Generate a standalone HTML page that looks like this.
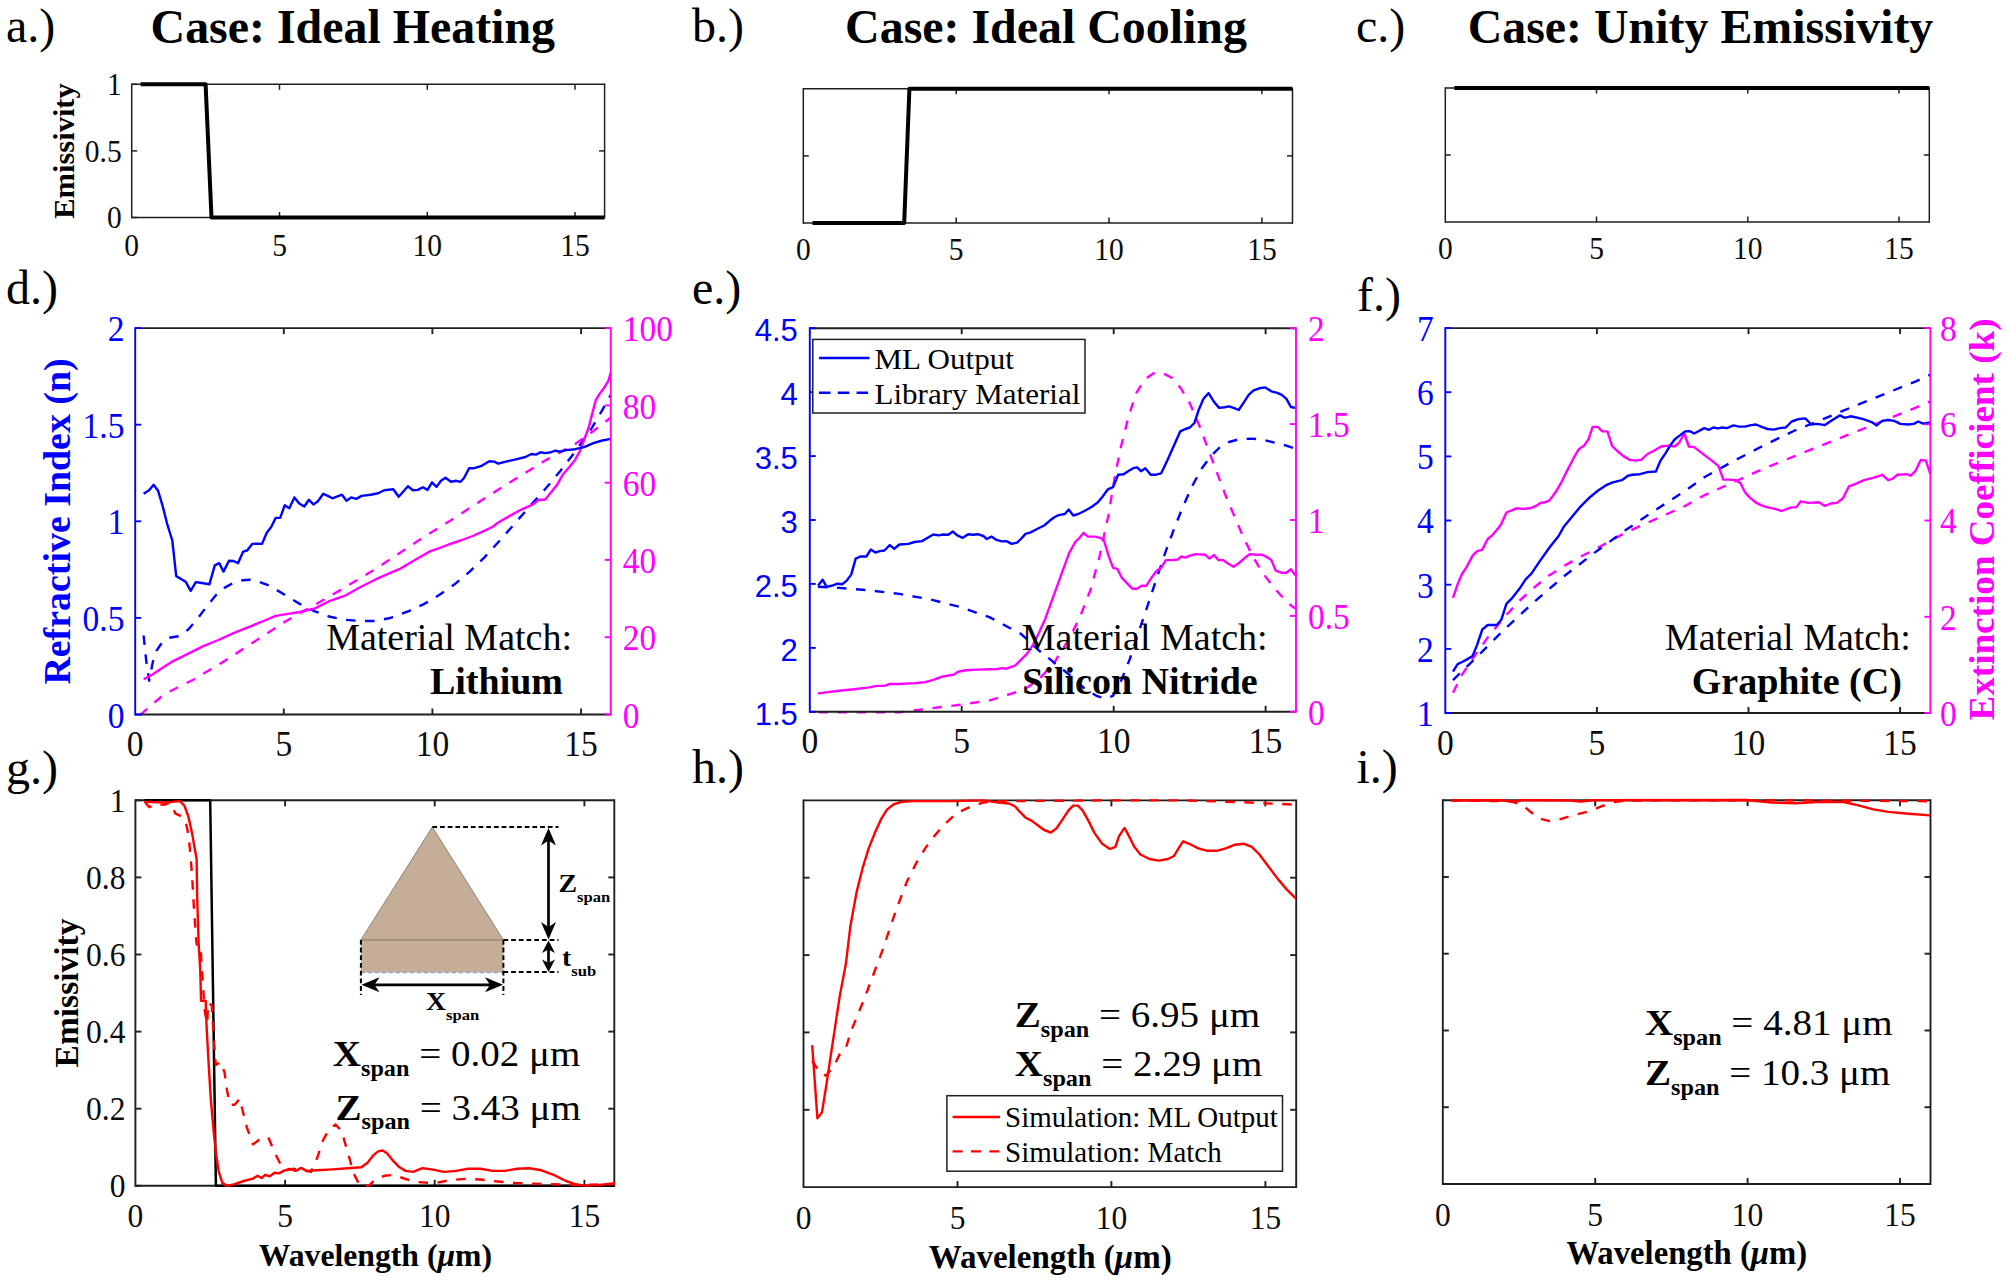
<!DOCTYPE html>
<html lang="en"><head><meta charset="utf-8"><title>Figure</title>
<style>
html,body{margin:0;padding:0;background:#fff;}
body{width:2007px;height:1284px;overflow:hidden;}
svg{display:block;}
.sf{font-family:'Liberation Serif', 'DejaVu Serif', serif;}
.ss{font-family:'Liberation Sans', 'DejaVu Sans', sans-serif;}
</style></head><body>
<svg width="2007" height="1284" viewBox="0 0 2007 1284">
<rect width="2007" height="1284" fill="#fff"/>
<text x="6.0" y="42.0" font-size="48" fill="#000" text-anchor="start" class="sf" >a.)</text>
<text x="692.0" y="42.0" font-size="48" fill="#000" text-anchor="start" class="sf" >b.)</text>
<text x="1356.0" y="42.0" font-size="48" fill="#000" text-anchor="start" class="sf" >c.)</text>
<text x="6.0" y="303.5" font-size="48" fill="#000" text-anchor="start" class="sf" >d.)</text>
<text x="692.0" y="304.0" font-size="48" fill="#000" text-anchor="start" class="sf" >e.)</text>
<text x="1357.0" y="311.0" font-size="48" fill="#000" text-anchor="start" class="sf" >f.)</text>
<text x="6.0" y="783.6" font-size="48" fill="#000" text-anchor="start" class="sf" >g.)</text>
<text x="692.0" y="783.4" font-size="48" fill="#000" text-anchor="start" class="sf" >h.)</text>
<text x="1356.5" y="783.2" font-size="48" fill="#000" text-anchor="start" class="sf" >i.)</text>
<text x="352.8" y="42.5" font-size="47.9" fill="#000" text-anchor="middle" class="sf" font-weight="bold" >Case: Ideal Heating</text>
<text x="1046.0" y="42.5" font-size="47.9" fill="#000" text-anchor="middle" class="sf" font-weight="bold" >Case: Ideal Cooling</text>
<text x="1700.5" y="42.5" font-size="47.9" fill="#000" text-anchor="middle" class="sf" font-weight="bold" >Case: Unity Emissivity</text>
<line x1="131.7" y1="84.3" x2="604.6" y2="84.3" stroke="#1f1f1f" stroke-width="1.5" />
<line x1="131.7" y1="217.5" x2="604.6" y2="217.5" stroke="#1f1f1f" stroke-width="1.5" />
<line x1="131.7" y1="83.5" x2="131.7" y2="218.2" stroke="#1f1f1f" stroke-width="1.5" />
<line x1="604.6" y1="83.5" x2="604.6" y2="218.2" stroke="#1f1f1f" stroke-width="1.5" />
<text x="0.0" y="0.0" font-size="29.5" fill="#0d0d0d" text-anchor="middle" class="sf" transform="translate(131.7 255.5) scale(1 1.08)" >0</text>
<line x1="279.5" y1="217.5" x2="279.5" y2="212.0" stroke="#1f1f1f" stroke-width="1.5" />
<line x1="279.5" y1="84.3" x2="279.5" y2="89.8" stroke="#1f1f1f" stroke-width="1.5" />
<text x="0.0" y="0.0" font-size="29.5" fill="#0d0d0d" text-anchor="middle" class="sf" transform="translate(279.5 255.5) scale(1 1.08)" >5</text>
<line x1="427.3" y1="217.5" x2="427.3" y2="212.0" stroke="#1f1f1f" stroke-width="1.5" />
<line x1="427.3" y1="84.3" x2="427.3" y2="89.8" stroke="#1f1f1f" stroke-width="1.5" />
<text x="0.0" y="0.0" font-size="29.5" fill="#0d0d0d" text-anchor="middle" class="sf" transform="translate(427.3 255.5) scale(1 1.08)" >10</text>
<line x1="575.0" y1="217.5" x2="575.0" y2="212.0" stroke="#1f1f1f" stroke-width="1.5" />
<line x1="575.0" y1="84.3" x2="575.0" y2="89.8" stroke="#1f1f1f" stroke-width="1.5" />
<text x="0.0" y="0.0" font-size="29.5" fill="#0d0d0d" text-anchor="middle" class="sf" transform="translate(575.0 255.5) scale(1 1.08)" >15</text>
<line x1="131.7" y1="217.5" x2="137.2" y2="217.5" stroke="#1f1f1f" stroke-width="1.5" />
<text x="0.0" y="0.0" font-size="29.5" fill="#0d0d0d" text-anchor="end" class="sf" transform="translate(121.7 228.3) scale(1 1.08)" >0</text>
<line x1="131.7" y1="150.9" x2="137.2" y2="150.9" stroke="#1f1f1f" stroke-width="1.5" />
<text x="0.0" y="0.0" font-size="29.5" fill="#0d0d0d" text-anchor="end" class="sf" transform="translate(121.7 161.7) scale(1 1.08)" >0.5</text>
<line x1="131.7" y1="84.3" x2="137.2" y2="84.3" stroke="#1f1f1f" stroke-width="1.5" />
<text x="0.0" y="0.0" font-size="29.5" fill="#0d0d0d" text-anchor="end" class="sf" transform="translate(121.7 95.1) scale(1 1.08)" >1</text>
<line x1="604.6" y1="150.9" x2="599.1" y2="150.9" stroke="#1f1f1f" stroke-width="1.5" />
<path d="M140.6 84.3 L205.6 84.3 L211.5 217.5 L604.6 217.5" fill="none" stroke="#000" stroke-width="4" stroke-linejoin="round" stroke-linejoin="miter"/>
<text x="0.0" y="0.0" font-size="28.5" fill="#000" text-anchor="middle" class="sf" font-weight="bold" transform="translate(73.5 151.0) rotate(-90) scale(1.07 1)" >Emissivity</text>
<line x1="803.3" y1="88.8" x2="1292.5" y2="88.8" stroke="#1f1f1f" stroke-width="1.5" />
<line x1="803.3" y1="223.0" x2="1292.5" y2="223.0" stroke="#1f1f1f" stroke-width="1.5" />
<line x1="803.3" y1="88.0" x2="803.3" y2="223.8" stroke="#1f1f1f" stroke-width="1.5" />
<line x1="1292.5" y1="88.0" x2="1292.5" y2="223.8" stroke="#1f1f1f" stroke-width="1.5" />
<text x="0.0" y="0.0" font-size="29.5" fill="#0d0d0d" text-anchor="middle" class="sf" transform="translate(803.3 260.0) scale(1 1.08)" >0</text>
<line x1="956.2" y1="223.0" x2="956.2" y2="217.5" stroke="#1f1f1f" stroke-width="1.5" />
<line x1="956.2" y1="88.8" x2="956.2" y2="94.3" stroke="#1f1f1f" stroke-width="1.5" />
<text x="0.0" y="0.0" font-size="29.5" fill="#0d0d0d" text-anchor="middle" class="sf" transform="translate(956.2 260.0) scale(1 1.08)" >5</text>
<line x1="1109.0" y1="223.0" x2="1109.0" y2="217.5" stroke="#1f1f1f" stroke-width="1.5" />
<line x1="1109.0" y1="88.8" x2="1109.0" y2="94.3" stroke="#1f1f1f" stroke-width="1.5" />
<text x="0.0" y="0.0" font-size="29.5" fill="#0d0d0d" text-anchor="middle" class="sf" transform="translate(1109.0 260.0) scale(1 1.08)" >10</text>
<line x1="1261.9" y1="223.0" x2="1261.9" y2="217.5" stroke="#1f1f1f" stroke-width="1.5" />
<line x1="1261.9" y1="88.8" x2="1261.9" y2="94.3" stroke="#1f1f1f" stroke-width="1.5" />
<text x="0.0" y="0.0" font-size="29.5" fill="#0d0d0d" text-anchor="middle" class="sf" transform="translate(1261.9 260.0) scale(1 1.08)" >15</text>
<line x1="803.3" y1="155.9" x2="808.8" y2="155.9" stroke="#1f1f1f" stroke-width="1.5" />
<line x1="1292.5" y1="155.9" x2="1287.0" y2="155.9" stroke="#1f1f1f" stroke-width="1.5" />
<path d="M812.5 223.0 L904.2 223.0 L909.4 88.8 L1292.5 88.8" fill="none" stroke="#000" stroke-width="4" stroke-linejoin="round" />
<line x1="1445.3" y1="88.0" x2="1929.3" y2="88.0" stroke="#1f1f1f" stroke-width="1.5" />
<line x1="1445.3" y1="222.0" x2="1929.3" y2="222.0" stroke="#1f1f1f" stroke-width="1.5" />
<line x1="1445.3" y1="87.2" x2="1445.3" y2="222.8" stroke="#1f1f1f" stroke-width="1.5" />
<line x1="1929.3" y1="87.2" x2="1929.3" y2="222.8" stroke="#1f1f1f" stroke-width="1.5" />
<text x="0.0" y="0.0" font-size="29.5" fill="#0d0d0d" text-anchor="middle" class="sf" transform="translate(1445.3 259.0) scale(1 1.08)" >0</text>
<line x1="1596.5" y1="222.0" x2="1596.5" y2="216.5" stroke="#1f1f1f" stroke-width="1.5" />
<line x1="1596.5" y1="88.0" x2="1596.5" y2="93.5" stroke="#1f1f1f" stroke-width="1.5" />
<text x="0.0" y="0.0" font-size="29.5" fill="#0d0d0d" text-anchor="middle" class="sf" transform="translate(1596.5 259.0) scale(1 1.08)" >5</text>
<line x1="1747.8" y1="222.0" x2="1747.8" y2="216.5" stroke="#1f1f1f" stroke-width="1.5" />
<line x1="1747.8" y1="88.0" x2="1747.8" y2="93.5" stroke="#1f1f1f" stroke-width="1.5" />
<text x="0.0" y="0.0" font-size="29.5" fill="#0d0d0d" text-anchor="middle" class="sf" transform="translate(1747.8 259.0) scale(1 1.08)" >10</text>
<line x1="1899.0" y1="222.0" x2="1899.0" y2="216.5" stroke="#1f1f1f" stroke-width="1.5" />
<line x1="1899.0" y1="88.0" x2="1899.0" y2="93.5" stroke="#1f1f1f" stroke-width="1.5" />
<text x="0.0" y="0.0" font-size="29.5" fill="#0d0d0d" text-anchor="middle" class="sf" transform="translate(1899.0 259.0) scale(1 1.08)" >15</text>
<line x1="1445.3" y1="155.0" x2="1450.8" y2="155.0" stroke="#1f1f1f" stroke-width="1.5" />
<line x1="1929.3" y1="155.0" x2="1923.8" y2="155.0" stroke="#1f1f1f" stroke-width="1.5" />
<path d="M1454.4 88.0 L1929.3 88.0" fill="none" stroke="#000" stroke-width="4" stroke-linejoin="round" />
<path d="M140.0 715.1 L164.1 694.3 L194.3 679.2 L224.4 661.1 L254.6 641.5 L284.7 621.9 L314.9 604.8 L345.0 587.3 L375.2 569.2 L424.4 536.6 L454.6 517.9 L484.7 498.3 L514.9 479.3 L545.0 460.6 L575.2 444.1 L590.3 433.5 L610.8 417.5" fill="none" stroke="#ff00ff" stroke-width="2.4" stroke-linejoin="round" stroke-dasharray="9.5 9.5" />
<path d="M143.6 635.5 L146.1 659.6 L149.1 680.7 L152.7 662.6 L156.6 650.6 L161.7 643.0 L168.7 637.9 L179.2 636.1 L188.3 629.5 L197.3 618.9 L206.4 606.9 L215.4 595.7 L224.4 587.9 L233.5 582.7 L242.5 580.3 L250.1 579.7 L257.6 581.2 L269.7 585.8 L284.7 594.8 L299.8 603.9 L314.9 611.4 L330.0 616.8 L345.0 619.8 L360.1 621.0 L375.2 621.0 L390.3 618.0 L409.4 610.8 L424.4 603.9 L439.5 594.8 L454.6 584.3 L469.7 571.6 L484.7 557.1 L499.8 540.5 L514.9 523.4 L530.0 505.9 L545.0 489.3 L560.1 471.2 L575.2 451.6 L590.3 430.5 L599.3 415.4 L610.8 394.9" fill="none" stroke="#0000ff" stroke-width="2.4" stroke-linejoin="round" stroke-dasharray="9.5 9.5" />
<path d="M143.6 679.2 L152.1 674.7 L161.1 668.7 L173.2 661.1 L188.3 653.6 L203.3 646.1 L218.4 640.0 L233.5 633.1 L248.6 627.1 L263.6 621.0 L275.7 615.9 L284.7 614.4 L299.8 612.0 L314.9 608.4 L330.0 600.8 L345.0 595.7 L360.1 587.3 L375.2 579.7 L390.3 572.8 L399.3 569.2 L409.4 563.2 L421.4 556.2 L430.5 551.1 L439.5 548.1 L448.6 544.5 L460.6 540.5 L472.7 536.0 L484.7 530.6 L492.3 527.0 L498.3 522.5 L508.9 516.4 L520.9 509.8 L533.0 504.4 L539.0 499.8 L545.0 499.8 L551.1 492.3 L557.1 484.8 L563.1 474.2 L569.2 467.3 L575.2 459.7 L579.7 451.6 L584.2 439.5 L588.7 427.5 L591.8 415.4 L595.7 400.4 L599.3 394.3 L603.8 388.3 L608.3 380.8 L610.8 372.6" fill="none" stroke="#ff00ff" stroke-width="2.4" stroke-linejoin="round" />
<path d="M143.6 493.8 L149.1 490.2 L153.6 484.8 L158.1 490.8 L162.6 505.9 L167.2 524.0 L172.3 540.5 L176.2 576.1 L180.7 578.8 L185.9 582.1 L190.7 590.9 L195.8 582.1 L200.3 582.7 L209.4 584.3 L214.8 565.3 L219.3 563.2 L223.5 571.6 L229.0 560.7 L233.5 561.0 L238.0 563.2 L243.1 551.7 L247.1 550.5 L252.2 543.9 L257.0 543.6 L262.1 543.9 L266.6 533.0 L271.2 527.0 L275.7 517.9 L280.2 517.9 L284.7 505.3 L289.3 508.3 L294.4 497.4 L299.2 503.5 L304.3 506.5 L308.9 499.8 L313.4 504.4 L317.9 501.3 L323.3 493.8 L327.8 495.9 L332.4 498.3 L342.0 494.7 L346.5 500.7 L351.1 497.4 L356.2 498.9 L361.6 495.9 L370.7 494.7 L378.2 493.2 L384.2 490.2 L393.3 489.3 L398.7 496.8 L407.9 486.3 L413.0 490.2 L417.8 489.9 L422.9 487.2 L427.5 489.9 L432.0 482.4 L436.5 486.9 L441.0 480.8 L445.5 477.8 L451.0 481.8 L456.1 480.8 L460.6 481.8 L464.2 477.8 L469.1 468.2 L474.2 468.2 L481.7 465.8 L489.3 461.3 L494.4 461.6 L498.3 463.7 L505.8 461.6 L514.9 459.7 L525.4 457.0 L531.5 454.0 L536.0 454.6 L540.5 452.2 L545.0 453.1 L551.1 452.2 L555.6 450.7 L560.1 451.6 L566.1 450.1 L575.2 449.2 L584.2 447.1 L593.3 443.2 L602.3 440.5 L610.8 438.9" fill="none" stroke="#0000ff" stroke-width="2.4" stroke-linejoin="round" />
<line x1="135.2" y1="328.1" x2="610.8" y2="328.1" stroke="#1f1f1f" stroke-width="1.9" />
<line x1="135.2" y1="714.5" x2="610.8" y2="714.5" stroke="#1f1f1f" stroke-width="1.9" />
<line x1="135.2" y1="327.2" x2="135.2" y2="715.5" stroke="#0000ff" stroke-width="1.9" />
<line x1="610.8" y1="327.2" x2="610.8" y2="715.5" stroke="#ff00ff" stroke-width="1.9" />
<text x="0.0" y="0.0" font-size="33.5" fill="#0d0d0d" text-anchor="middle" class="sf" transform="translate(135.2 756.0) scale(1 1.05)" >0</text>
<line x1="283.8" y1="714.5" x2="283.8" y2="708.5" stroke="#1f1f1f" stroke-width="1.9" />
<line x1="283.8" y1="328.1" x2="283.8" y2="334.1" stroke="#1f1f1f" stroke-width="1.9" />
<text x="0.0" y="0.0" font-size="33.5" fill="#0d0d0d" text-anchor="middle" class="sf" transform="translate(283.8 756.0) scale(1 1.05)" >5</text>
<line x1="432.4" y1="714.5" x2="432.4" y2="708.5" stroke="#1f1f1f" stroke-width="1.9" />
<line x1="432.4" y1="328.1" x2="432.4" y2="334.1" stroke="#1f1f1f" stroke-width="1.9" />
<text x="0.0" y="0.0" font-size="33.5" fill="#0d0d0d" text-anchor="middle" class="sf" transform="translate(432.4 756.0) scale(1 1.05)" >10</text>
<line x1="581.1" y1="714.5" x2="581.1" y2="708.5" stroke="#1f1f1f" stroke-width="1.9" />
<line x1="581.1" y1="328.1" x2="581.1" y2="334.1" stroke="#1f1f1f" stroke-width="1.9" />
<text x="0.0" y="0.0" font-size="33.5" fill="#0d0d0d" text-anchor="middle" class="sf" transform="translate(581.1 756.0) scale(1 1.05)" >15</text>
<line x1="135.2" y1="714.5" x2="141.2" y2="714.5" stroke="#0000ff" stroke-width="1.9" />
<text x="0.0" y="0.0" font-size="33.5" fill="#0000ff" text-anchor="end" class="sf" transform="translate(124.4 727.6) scale(1 1.05)" >0</text>
<line x1="135.2" y1="617.9" x2="141.2" y2="617.9" stroke="#0000ff" stroke-width="1.9" />
<text x="0.0" y="0.0" font-size="33.5" fill="#0000ff" text-anchor="end" class="sf" transform="translate(124.4 631.0) scale(1 1.05)" >0.5</text>
<line x1="135.2" y1="521.3" x2="141.2" y2="521.3" stroke="#0000ff" stroke-width="1.9" />
<text x="0.0" y="0.0" font-size="33.5" fill="#0000ff" text-anchor="end" class="sf" transform="translate(124.4 534.4) scale(1 1.05)" >1</text>
<line x1="135.2" y1="424.7" x2="141.2" y2="424.7" stroke="#0000ff" stroke-width="1.9" />
<text x="0.0" y="0.0" font-size="33.5" fill="#0000ff" text-anchor="end" class="sf" transform="translate(124.4 437.8) scale(1 1.05)" >1.5</text>
<line x1="135.2" y1="328.1" x2="141.2" y2="328.1" stroke="#0000ff" stroke-width="1.9" />
<text x="0.0" y="0.0" font-size="33.5" fill="#0000ff" text-anchor="end" class="sf" transform="translate(124.4 341.2) scale(1 1.05)" >2</text>
<line x1="610.8" y1="714.5" x2="604.8" y2="714.5" stroke="#ff00ff" stroke-width="1.9" />
<text x="0.0" y="0.0" font-size="33.5" fill="#ff00ff" text-anchor="start" class="sf" transform="translate(622.8 727.6) scale(1 1.05)" >0</text>
<line x1="610.8" y1="637.2" x2="604.8" y2="637.2" stroke="#ff00ff" stroke-width="1.9" />
<text x="0.0" y="0.0" font-size="33.5" fill="#ff00ff" text-anchor="start" class="sf" transform="translate(622.8 650.3) scale(1 1.05)" >20</text>
<line x1="610.8" y1="559.9" x2="604.8" y2="559.9" stroke="#ff00ff" stroke-width="1.9" />
<text x="0.0" y="0.0" font-size="33.5" fill="#ff00ff" text-anchor="start" class="sf" transform="translate(622.8 573.0) scale(1 1.05)" >40</text>
<line x1="610.8" y1="482.7" x2="604.8" y2="482.7" stroke="#ff00ff" stroke-width="1.9" />
<text x="0.0" y="0.0" font-size="33.5" fill="#ff00ff" text-anchor="start" class="sf" transform="translate(622.8 495.7) scale(1 1.05)" >60</text>
<line x1="610.8" y1="405.4" x2="604.8" y2="405.4" stroke="#ff00ff" stroke-width="1.9" />
<text x="0.0" y="0.0" font-size="33.5" fill="#ff00ff" text-anchor="start" class="sf" transform="translate(622.8 418.5) scale(1 1.05)" >80</text>
<line x1="610.8" y1="328.1" x2="604.8" y2="328.1" stroke="#ff00ff" stroke-width="1.9" />
<text x="0.0" y="0.0" font-size="33.5" fill="#ff00ff" text-anchor="start" class="sf" transform="translate(622.8 341.2) scale(1 1.05)" >100</text>
<text x="0.0" y="0.0" font-size="37.9" fill="#0000ff" text-anchor="middle" class="sf" font-weight="bold" transform="translate(70.3 521.5) rotate(-90)" >Refractive Index (n)</text>
<text x="572.0" y="650.0" font-size="38" fill="#000" text-anchor="end" class="sf" >Material Match:</text>
<text x="563.0" y="694.3" font-size="38" fill="#000" text-anchor="end" class="sf" font-weight="bold" >Lithium</text>
<path d="M818.7 712.2 L900.0 712.2 L929.6 708.5 L959.7 704.8 L989.9 700.3 L1024.1 689.8 L1039.1 679.2 L1054.2 662.6 L1069.3 638.5 L1079.8 617.4 L1090.4 590.3 L1099.4 557.1 L1108.5 514.9 L1114.5 478.7 L1120.5 448.6 L1128.1 418.4 L1135.6 394.3 L1144.7 379.3 L1153.7 373.2 L1162.8 373.2 L1171.8 377.7 L1180.8 388.3 L1189.9 403.4 L1198.9 424.5 L1208.0 448.6 L1217.0 472.7 L1226.1 496.8 L1235.1 517.9 L1244.2 539.0 L1253.2 557.1 L1262.2 572.2 L1271.3 584.3 L1280.3 594.8 L1290.9 605.4 L1295.4 608.4" fill="none" stroke="#ff00ff" stroke-width="2.4" stroke-linejoin="round" stroke-dasharray="9.5 9.5" />
<path d="M818.0 586.7 L839.1 587.9 L869.3 590.3 L899.4 593.9 L929.6 599.3 L959.7 606.9 L989.9 617.4 L1021.1 634.0 L1039.1 650.6 L1054.2 662.6 L1069.3 674.7 L1084.4 688.3 L1096.4 695.8 L1105.5 698.8 L1113.0 695.8 L1120.5 682.2 L1129.6 659.6 L1138.6 632.5 L1147.7 605.4 L1156.7 578.2 L1165.8 551.1 L1174.8 527.0 L1183.9 504.4 L1192.9 484.8 L1201.9 468.2 L1211.0 456.1 L1220.0 447.1 L1229.1 442.0 L1238.1 439.5 L1250.2 438.6 L1262.2 439.5 L1274.3 442.6 L1286.4 445.6 L1295.4 448.6" fill="none" stroke="#0000ff" stroke-width="2.4" stroke-linejoin="round" stroke-dasharray="9.5 9.5" />
<path d="M818.0 693.4 L839.1 690.7 L854.2 689.2 L869.3 687.4 L876.8 685.9 L884.4 685.9 L889.8 684.0 L899.4 684.0 L914.5 683.1 L925.1 682.2 L932.6 680.1 L941.6 676.8 L947.7 675.6 L953.7 674.7 L958.2 671.7 L965.8 670.2 L977.8 669.6 L989.9 669.3 L997.4 669.0 L1001.9 668.1 L1006.5 668.7 L1015.0 665.7 L1021.1 659.6 L1027.1 653.6 L1033.1 644.6 L1039.1 632.5 L1045.2 618.9 L1051.2 602.3 L1057.2 585.8 L1063.3 569.2 L1069.3 552.6 L1075.3 542.0 L1079.8 537.5 L1083.5 533.0 L1088.0 536.6 L1094.9 536.6 L1101.0 538.1 L1104.0 540.5 L1108.5 555.6 L1113.0 567.7 L1117.5 569.2 L1122.1 578.2 L1128.1 584.3 L1132.6 588.8 L1137.1 588.8 L1141.6 585.8 L1146.2 585.8 L1152.2 576.7 L1156.7 570.7 L1161.2 567.7 L1165.8 560.1 L1171.8 560.1 L1177.8 559.5 L1181.4 556.5 L1185.4 557.7 L1189.9 555.6 L1195.9 554.1 L1205.0 554.7 L1209.5 558.6 L1214.0 555.0 L1218.5 560.1 L1223.0 560.1 L1227.6 563.2 L1233.6 566.8 L1239.6 562.5 L1245.7 557.1 L1250.2 554.1 L1256.2 554.7 L1262.2 554.7 L1266.8 557.1 L1271.3 560.1 L1275.8 570.7 L1281.8 572.8 L1286.4 572.8 L1290.9 569.2 L1295.4 575.2" fill="none" stroke="#ff00ff" stroke-width="2.4" stroke-linejoin="round" />
<path d="M818.0 585.8 L822.6 579.7 L826.5 586.7 L831.6 585.8 L837.6 583.7 L842.2 584.3 L846.7 580.6 L851.2 574.6 L855.7 558.6 L860.3 556.5 L866.3 556.5 L870.8 549.6 L875.3 552.6 L879.8 551.1 L884.4 550.5 L889.8 545.1 L894.3 548.7 L899.4 544.5 L908.5 543.9 L914.5 542.0 L922.1 541.1 L928.1 537.5 L933.2 534.5 L938.6 535.4 L943.2 534.5 L948.3 534.8 L952.8 531.5 L957.3 535.4 L962.8 537.8 L968.2 534.2 L973.3 534.8 L977.8 534.2 L983.3 536.0 L986.9 539.0 L991.4 536.6 L996.5 539.9 L1001.9 541.4 L1006.5 541.1 L1011.6 543.9 L1017.0 542.7 L1020.9 539.0 L1025.5 533.9 L1030.6 532.4 L1038.1 528.5 L1044.2 525.5 L1050.2 520.3 L1054.7 517.0 L1059.2 514.9 L1060.3 514.9 L1064.8 514.0 L1068.7 509.5 L1073.2 515.5 L1078.3 514.0 L1084.4 511.0 L1091.9 506.8 L1097.9 502.3 L1102.5 496.8 L1107.9 489.3 L1113.0 487.2 L1118.1 474.8 L1123.6 474.2 L1128.1 471.2 L1133.2 468.2 L1137.1 467.3 L1141.0 471.2 L1145.3 468.2 L1150.7 474.8 L1155.2 474.8 L1161.2 473.3 L1167.3 460.6 L1173.3 447.1 L1180.2 431.4 L1185.4 429.0 L1189.9 427.5 L1194.4 423.0 L1198.9 409.4 L1203.5 398.8 L1208.6 393.1 L1214.0 401.9 L1219.1 407.9 L1224.6 407.3 L1229.1 406.4 L1233.6 407.9 L1238.7 410.0 L1244.2 401.9 L1248.7 394.9 L1253.2 390.7 L1259.2 388.3 L1265.3 387.4 L1271.3 391.3 L1277.3 392.8 L1281.8 394.9 L1286.4 398.8 L1290.9 407.0 L1295.4 407.9" fill="none" stroke="#0000ff" stroke-width="2.4" stroke-linejoin="round" />
<line x1="809.8" y1="328.2" x2="1296.0" y2="328.2" stroke="#1f1f1f" stroke-width="1.9" />
<line x1="809.8" y1="711.8" x2="1296.0" y2="711.8" stroke="#1f1f1f" stroke-width="1.9" />
<line x1="809.8" y1="327.2" x2="809.8" y2="712.8" stroke="#0000ff" stroke-width="1.9" />
<line x1="1296.0" y1="327.2" x2="1296.0" y2="712.8" stroke="#ff00ff" stroke-width="1.9" />
<text x="0.0" y="0.0" font-size="33.5" fill="#0d0d0d" text-anchor="middle" class="sf" transform="translate(809.8 753.3) scale(1 1.05)" >0</text>
<line x1="961.7" y1="711.8" x2="961.7" y2="705.8" stroke="#1f1f1f" stroke-width="1.9" />
<line x1="961.7" y1="328.2" x2="961.7" y2="334.2" stroke="#1f1f1f" stroke-width="1.9" />
<text x="0.0" y="0.0" font-size="33.5" fill="#0d0d0d" text-anchor="middle" class="sf" transform="translate(961.7 753.3) scale(1 1.05)" >5</text>
<line x1="1113.7" y1="711.8" x2="1113.7" y2="705.8" stroke="#1f1f1f" stroke-width="1.9" />
<line x1="1113.7" y1="328.2" x2="1113.7" y2="334.2" stroke="#1f1f1f" stroke-width="1.9" />
<text x="0.0" y="0.0" font-size="33.5" fill="#0d0d0d" text-anchor="middle" class="sf" transform="translate(1113.7 753.3) scale(1 1.05)" >10</text>
<line x1="1265.6" y1="711.8" x2="1265.6" y2="705.8" stroke="#1f1f1f" stroke-width="1.9" />
<line x1="1265.6" y1="328.2" x2="1265.6" y2="334.2" stroke="#1f1f1f" stroke-width="1.9" />
<text x="0.0" y="0.0" font-size="33.5" fill="#0d0d0d" text-anchor="middle" class="sf" transform="translate(1265.6 753.3) scale(1 1.05)" >15</text>
<line x1="809.8" y1="711.8" x2="815.8" y2="711.8" stroke="#0000ff" stroke-width="1.9" />
<text x="797.8" y="724.7" font-size="31" fill="#0000ff" text-anchor="end" class="ss" >1.5</text>
<line x1="809.8" y1="647.9" x2="815.8" y2="647.9" stroke="#0000ff" stroke-width="1.9" />
<text x="797.8" y="660.8" font-size="31" fill="#0000ff" text-anchor="end" class="ss" >2</text>
<line x1="809.8" y1="583.9" x2="815.8" y2="583.9" stroke="#0000ff" stroke-width="1.9" />
<text x="797.8" y="596.8" font-size="31" fill="#0000ff" text-anchor="end" class="ss" >2.5</text>
<line x1="809.8" y1="520.0" x2="815.8" y2="520.0" stroke="#0000ff" stroke-width="1.9" />
<text x="797.8" y="532.9" font-size="31" fill="#0000ff" text-anchor="end" class="ss" >3</text>
<line x1="809.8" y1="456.1" x2="815.8" y2="456.1" stroke="#0000ff" stroke-width="1.9" />
<text x="797.8" y="469.0" font-size="31" fill="#0000ff" text-anchor="end" class="ss" >3.5</text>
<line x1="809.8" y1="392.1" x2="815.8" y2="392.1" stroke="#0000ff" stroke-width="1.9" />
<text x="797.8" y="405.0" font-size="31" fill="#0000ff" text-anchor="end" class="ss" >4</text>
<line x1="809.8" y1="328.2" x2="815.8" y2="328.2" stroke="#0000ff" stroke-width="1.9" />
<text x="797.8" y="341.1" font-size="31" fill="#0000ff" text-anchor="end" class="ss" >4.5</text>
<line x1="1296.0" y1="711.8" x2="1290.0" y2="711.8" stroke="#ff00ff" stroke-width="1.9" />
<text x="0.0" y="0.0" font-size="33.5" fill="#ff00ff" text-anchor="start" class="sf" transform="translate(1308.0 724.7) scale(1 1.05)" >0</text>
<line x1="1296.0" y1="615.9" x2="1290.0" y2="615.9" stroke="#ff00ff" stroke-width="1.9" />
<text x="0.0" y="0.0" font-size="33.5" fill="#ff00ff" text-anchor="start" class="sf" transform="translate(1308.0 628.8) scale(1 1.05)" >0.5</text>
<line x1="1296.0" y1="520.0" x2="1290.0" y2="520.0" stroke="#ff00ff" stroke-width="1.9" />
<text x="0.0" y="0.0" font-size="33.5" fill="#ff00ff" text-anchor="start" class="sf" transform="translate(1308.0 532.9) scale(1 1.05)" >1</text>
<line x1="1296.0" y1="424.1" x2="1290.0" y2="424.1" stroke="#ff00ff" stroke-width="1.9" />
<text x="0.0" y="0.0" font-size="33.5" fill="#ff00ff" text-anchor="start" class="sf" transform="translate(1308.0 437.0) scale(1 1.05)" >1.5</text>
<line x1="1296.0" y1="328.2" x2="1290.0" y2="328.2" stroke="#ff00ff" stroke-width="1.9" />
<text x="0.0" y="0.0" font-size="33.5" fill="#ff00ff" text-anchor="start" class="sf" transform="translate(1308.0 341.1) scale(1 1.05)" >2</text>
<text x="1267.7" y="650.0" font-size="38" fill="#000" text-anchor="end" class="sf" >Material Match:</text>
<text x="1257.7" y="694.3" font-size="38" fill="#000" text-anchor="end" class="sf" font-weight="bold" >Silicon Nitride</text>
<rect x="812.8" y="339.4" width="272.2" height="73.6" fill="#fff" stroke="#1f1f1f" stroke-width="1.5"/>
<line x1="819.0" y1="358.0" x2="869.5" y2="358.0" stroke="#0000ff" stroke-width="2.4" />
<line x1="819.0" y1="392.7" x2="869.5" y2="392.7" stroke="#0000ff" stroke-width="2.4" stroke-dasharray="11.5 7.3"/>
<text x="0.0" y="0.0" font-size="29" fill="#000" text-anchor="start" class="sf" transform="translate(874.5 368.7) scale(1.07 1)" >ML Output</text>
<text x="0.0" y="0.0" font-size="29" fill="#000" text-anchor="start" class="sf" transform="translate(874.5 404.0) scale(1.07 1)" >Library Material</text>
<path d="M1453.0 692.8 L1462.1 674.7 L1474.1 656.6 L1489.2 635.5 L1504.3 617.4 L1519.4 600.8 L1534.4 587.3 L1549.5 575.2 L1564.6 565.6 L1579.7 557.1 L1594.7 549.6 L1624.9 533.0 L1655.0 519.4 L1685.2 505.9 L1704.3 495.3 L1734.4 481.8 L1764.6 468.2 L1794.7 456.1 L1824.9 444.1 L1855.0 432.0 L1885.2 420.0 L1915.3 407.9 L1930.4 401.3" fill="none" stroke="#ff00ff" stroke-width="2.4" stroke-linejoin="round" stroke-dasharray="9.5 9.5" />
<path d="M1453.0 680.1 L1474.1 659.6 L1504.3 629.5 L1534.4 601.7 L1564.6 575.8 L1594.7 552.6 L1624.9 530.6 L1655.0 510.4 L1685.2 490.8 L1704.3 477.2 L1734.4 460.6 L1764.6 445.0 L1794.7 430.5 L1824.9 418.4 L1855.0 405.8 L1885.2 393.7 L1915.3 381.7 L1930.4 374.7" fill="none" stroke="#0000ff" stroke-width="2.4" stroke-linejoin="round" stroke-dasharray="9.5 9.5" />
<path d="M1453.0 597.8 L1457.6 584.3 L1462.1 573.7 L1466.6 567.1 L1472.6 555.6 L1477.2 551.1 L1482.3 549.6 L1487.7 539.0 L1492.2 535.4 L1496.8 530.0 L1501.3 524.0 L1506.4 512.5 L1511.8 510.4 L1516.4 508.3 L1522.4 508.9 L1529.9 508.3 L1536.0 505.9 L1540.5 502.9 L1545.0 502.3 L1549.5 500.4 L1555.5 492.3 L1561.6 481.8 L1567.6 469.7 L1573.6 458.2 L1578.8 449.2 L1584.2 445.6 L1588.7 438.9 L1592.6 426.9 L1597.8 426.9 L1602.3 431.4 L1607.4 431.4 L1612.2 446.2 L1617.3 451.0 L1623.4 456.1 L1629.4 459.7 L1635.4 460.6 L1641.5 459.7 L1647.5 454.0 L1653.5 451.0 L1661.1 446.5 L1668.6 445.6 L1674.6 446.5 L1679.2 442.6 L1684.3 433.5 L1688.8 446.5 L1694.2 447.1 L1705.8 456.1 L1711.8 460.6 L1718.5 466.1 L1723.3 479.6 L1729.9 479.6 L1736.0 480.2 L1740.5 483.3 L1745.0 492.3 L1749.5 497.4 L1755.5 502.3 L1761.6 505.3 L1767.6 507.4 L1775.1 508.9 L1781.8 511.0 L1787.2 508.9 L1791.7 507.4 L1796.2 507.4 L1800.8 501.3 L1808.3 502.9 L1818.9 502.3 L1824.9 505.9 L1830.9 503.5 L1836.9 502.9 L1843.0 498.3 L1849.0 486.3 L1855.0 484.2 L1864.1 480.2 L1873.1 477.8 L1882.2 474.8 L1888.2 480.2 L1892.7 478.7 L1897.2 474.8 L1906.3 474.2 L1910.8 475.7 L1915.3 471.2 L1920.8 460.0 L1925.9 460.6 L1930.4 474.2" fill="none" stroke="#ff00ff" stroke-width="2.4" stroke-linejoin="round" />
<path d="M1453.0 671.7 L1457.6 664.1 L1462.1 662.0 L1466.6 659.6 L1472.6 656.0 L1477.2 644.6 L1482.3 629.5 L1487.7 625.0 L1496.8 625.0 L1501.3 619.8 L1506.4 603.9 L1511.8 598.4 L1519.4 588.8 L1525.4 579.7 L1531.4 573.7 L1540.5 560.1 L1549.5 547.5 L1558.6 536.0 L1564.0 526.4 L1570.6 518.5 L1579.7 507.4 L1588.7 498.3 L1597.8 490.8 L1606.8 484.8 L1612.8 482.4 L1621.9 480.2 L1627.9 475.7 L1632.4 474.8 L1640.0 474.2 L1647.5 472.1 L1655.9 471.5 L1660.5 460.6 L1665.6 453.1 L1670.1 445.6 L1674.6 439.5 L1679.2 435.9 L1685.2 431.4 L1689.7 431.1 L1694.2 433.5 L1704.3 428.1 L1708.8 429.9 L1713.3 427.5 L1717.9 428.4 L1722.4 427.5 L1726.9 428.1 L1733.5 425.4 L1739.0 426.6 L1745.0 426.6 L1751.0 425.1 L1756.1 424.5 L1761.6 426.9 L1767.6 429.0 L1773.6 429.6 L1779.7 428.1 L1785.7 427.5 L1791.7 421.5 L1797.8 419.3 L1805.3 418.4 L1811.3 424.5 L1817.3 423.9 L1824.9 425.1 L1832.4 420.0 L1840.0 415.4 L1844.5 417.8 L1850.5 416.3 L1856.5 417.5 L1864.1 419.3 L1871.6 422.1 L1876.7 425.4 L1882.2 420.9 L1888.2 420.0 L1894.2 420.9 L1900.3 423.9 L1907.8 424.5 L1913.8 423.9 L1918.3 421.5 L1922.9 423.6 L1930.4 422.4" fill="none" stroke="#0000ff" stroke-width="2.4" stroke-linejoin="round" />
<line x1="1445.3" y1="328.1" x2="1930.4" y2="328.1" stroke="#1f1f1f" stroke-width="1.9" />
<line x1="1445.3" y1="713.0" x2="1930.4" y2="713.0" stroke="#1f1f1f" stroke-width="1.9" />
<line x1="1445.3" y1="327.2" x2="1445.3" y2="714.0" stroke="#0000ff" stroke-width="1.9" />
<line x1="1930.4" y1="327.2" x2="1930.4" y2="714.0" stroke="#ff00ff" stroke-width="1.9" />
<text x="0.0" y="0.0" font-size="33.5" fill="#0d0d0d" text-anchor="middle" class="sf" transform="translate(1445.3 754.5) scale(1 1.05)" >0</text>
<line x1="1596.9" y1="713.0" x2="1596.9" y2="707.0" stroke="#1f1f1f" stroke-width="1.9" />
<line x1="1596.9" y1="328.1" x2="1596.9" y2="334.1" stroke="#1f1f1f" stroke-width="1.9" />
<text x="0.0" y="0.0" font-size="33.5" fill="#0d0d0d" text-anchor="middle" class="sf" transform="translate(1596.9 754.5) scale(1 1.05)" >5</text>
<line x1="1748.5" y1="713.0" x2="1748.5" y2="707.0" stroke="#1f1f1f" stroke-width="1.9" />
<line x1="1748.5" y1="328.1" x2="1748.5" y2="334.1" stroke="#1f1f1f" stroke-width="1.9" />
<text x="0.0" y="0.0" font-size="33.5" fill="#0d0d0d" text-anchor="middle" class="sf" transform="translate(1748.5 754.5) scale(1 1.05)" >10</text>
<line x1="1900.1" y1="713.0" x2="1900.1" y2="707.0" stroke="#1f1f1f" stroke-width="1.9" />
<line x1="1900.1" y1="328.1" x2="1900.1" y2="334.1" stroke="#1f1f1f" stroke-width="1.9" />
<text x="0.0" y="0.0" font-size="33.5" fill="#0d0d0d" text-anchor="middle" class="sf" transform="translate(1900.1 754.5) scale(1 1.05)" >15</text>
<line x1="1445.3" y1="713.0" x2="1451.3" y2="713.0" stroke="#0000ff" stroke-width="1.9" />
<text x="0.0" y="0.0" font-size="33.5" fill="#0000ff" text-anchor="end" class="sf" transform="translate(1433.8 725.9) scale(1 1.05)" >1</text>
<line x1="1445.3" y1="648.9" x2="1451.3" y2="648.9" stroke="#0000ff" stroke-width="1.9" />
<text x="0.0" y="0.0" font-size="33.5" fill="#0000ff" text-anchor="end" class="sf" transform="translate(1433.8 661.7) scale(1 1.05)" >2</text>
<line x1="1445.3" y1="584.7" x2="1451.3" y2="584.7" stroke="#0000ff" stroke-width="1.9" />
<text x="0.0" y="0.0" font-size="33.5" fill="#0000ff" text-anchor="end" class="sf" transform="translate(1433.8 597.6) scale(1 1.05)" >3</text>
<line x1="1445.3" y1="520.5" x2="1451.3" y2="520.5" stroke="#0000ff" stroke-width="1.9" />
<text x="0.0" y="0.0" font-size="33.5" fill="#0000ff" text-anchor="end" class="sf" transform="translate(1433.8 533.4) scale(1 1.05)" >4</text>
<line x1="1445.3" y1="456.4" x2="1451.3" y2="456.4" stroke="#0000ff" stroke-width="1.9" />
<text x="0.0" y="0.0" font-size="33.5" fill="#0000ff" text-anchor="end" class="sf" transform="translate(1433.8 469.3) scale(1 1.05)" >5</text>
<line x1="1445.3" y1="392.2" x2="1451.3" y2="392.2" stroke="#0000ff" stroke-width="1.9" />
<text x="0.0" y="0.0" font-size="33.5" fill="#0000ff" text-anchor="end" class="sf" transform="translate(1433.8 405.1) scale(1 1.05)" >6</text>
<line x1="1445.3" y1="328.1" x2="1451.3" y2="328.1" stroke="#0000ff" stroke-width="1.9" />
<text x="0.0" y="0.0" font-size="33.5" fill="#0000ff" text-anchor="end" class="sf" transform="translate(1433.8 341.0) scale(1 1.05)" >7</text>
<line x1="1930.4" y1="713.0" x2="1924.4" y2="713.0" stroke="#ff00ff" stroke-width="1.9" />
<text x="0.0" y="0.0" font-size="33.5" fill="#ff00ff" text-anchor="start" class="sf" transform="translate(1939.9 725.9) scale(1 1.05)" >0</text>
<line x1="1930.4" y1="616.8" x2="1924.4" y2="616.8" stroke="#ff00ff" stroke-width="1.9" />
<text x="0.0" y="0.0" font-size="33.5" fill="#ff00ff" text-anchor="start" class="sf" transform="translate(1939.9 629.7) scale(1 1.05)" >2</text>
<line x1="1930.4" y1="520.5" x2="1924.4" y2="520.5" stroke="#ff00ff" stroke-width="1.9" />
<text x="0.0" y="0.0" font-size="33.5" fill="#ff00ff" text-anchor="start" class="sf" transform="translate(1939.9 533.4) scale(1 1.05)" >4</text>
<line x1="1930.4" y1="424.3" x2="1924.4" y2="424.3" stroke="#ff00ff" stroke-width="1.9" />
<text x="0.0" y="0.0" font-size="33.5" fill="#ff00ff" text-anchor="start" class="sf" transform="translate(1939.9 437.2) scale(1 1.05)" >6</text>
<line x1="1930.4" y1="328.1" x2="1924.4" y2="328.1" stroke="#ff00ff" stroke-width="1.9" />
<text x="0.0" y="0.0" font-size="33.5" fill="#ff00ff" text-anchor="start" class="sf" transform="translate(1939.9 341.0) scale(1 1.05)" >8</text>
<text x="1910.8" y="650.0" font-size="38" fill="#000" text-anchor="end" class="sf" >Material Match:</text>
<text x="1901.8" y="694.3" font-size="38" fill="#000" text-anchor="end" class="sf" font-weight="bold" >Graphite (C)</text>
<text x="0.0" y="0.0" font-size="36.5" fill="#ff00ff" text-anchor="middle" class="sf" font-weight="bold" transform="translate(1994.0 519.5) rotate(-90)" textLength="402" lengthAdjust="spacingAndGlyphs">Extinction Coefficient (k)</text>
<line x1="135.4" y1="800.3" x2="614.3" y2="800.3" stroke="#1f1f1f" stroke-width="1.9" />
<line x1="135.4" y1="1185.8" x2="614.3" y2="1185.8" stroke="#1f1f1f" stroke-width="1.9" />
<line x1="135.4" y1="799.3" x2="135.4" y2="1186.8" stroke="#1f1f1f" stroke-width="1.9" />
<line x1="614.3" y1="799.3" x2="614.3" y2="1186.8" stroke="#1f1f1f" stroke-width="1.9" />
<text x="0.0" y="0.0" font-size="31.5" fill="#0d0d0d" text-anchor="middle" class="sf" transform="translate(135.4 1227.3) scale(1 1.08)" >0</text>
<line x1="285.1" y1="1185.8" x2="285.1" y2="1179.8" stroke="#1f1f1f" stroke-width="1.9" />
<line x1="285.1" y1="800.3" x2="285.1" y2="806.3" stroke="#1f1f1f" stroke-width="1.9" />
<text x="0.0" y="0.0" font-size="31.5" fill="#0d0d0d" text-anchor="middle" class="sf" transform="translate(285.1 1227.3) scale(1 1.08)" >5</text>
<line x1="434.7" y1="1185.8" x2="434.7" y2="1179.8" stroke="#1f1f1f" stroke-width="1.9" />
<line x1="434.7" y1="800.3" x2="434.7" y2="806.3" stroke="#1f1f1f" stroke-width="1.9" />
<text x="0.0" y="0.0" font-size="31.5" fill="#0d0d0d" text-anchor="middle" class="sf" transform="translate(434.7 1227.3) scale(1 1.08)" >10</text>
<line x1="584.4" y1="1185.8" x2="584.4" y2="1179.8" stroke="#1f1f1f" stroke-width="1.9" />
<line x1="584.4" y1="800.3" x2="584.4" y2="806.3" stroke="#1f1f1f" stroke-width="1.9" />
<text x="0.0" y="0.0" font-size="31.5" fill="#0d0d0d" text-anchor="middle" class="sf" transform="translate(584.4 1227.3) scale(1 1.08)" >15</text>
<line x1="135.4" y1="1185.8" x2="141.4" y2="1185.8" stroke="#1f1f1f" stroke-width="1.9" />
<text x="0.0" y="0.0" font-size="31.5" fill="#0d0d0d" text-anchor="end" class="sf" transform="translate(125.4 1197.3) scale(1 1.08)" >0</text>
<line x1="135.4" y1="1108.7" x2="141.4" y2="1108.7" stroke="#1f1f1f" stroke-width="1.9" />
<text x="0.0" y="0.0" font-size="31.5" fill="#0d0d0d" text-anchor="end" class="sf" transform="translate(125.4 1120.2) scale(1 1.08)" >0.2</text>
<line x1="135.4" y1="1031.6" x2="141.4" y2="1031.6" stroke="#1f1f1f" stroke-width="1.9" />
<text x="0.0" y="0.0" font-size="31.5" fill="#0d0d0d" text-anchor="end" class="sf" transform="translate(125.4 1043.1) scale(1 1.08)" >0.4</text>
<line x1="135.4" y1="954.5" x2="141.4" y2="954.5" stroke="#1f1f1f" stroke-width="1.9" />
<text x="0.0" y="0.0" font-size="31.5" fill="#0d0d0d" text-anchor="end" class="sf" transform="translate(125.4 966.0) scale(1 1.08)" >0.6</text>
<line x1="135.4" y1="877.4" x2="141.4" y2="877.4" stroke="#1f1f1f" stroke-width="1.9" />
<text x="0.0" y="0.0" font-size="31.5" fill="#0d0d0d" text-anchor="end" class="sf" transform="translate(125.4 888.9) scale(1 1.08)" >0.8</text>
<line x1="135.4" y1="800.3" x2="141.4" y2="800.3" stroke="#1f1f1f" stroke-width="1.9" />
<text x="0.0" y="0.0" font-size="31.5" fill="#0d0d0d" text-anchor="end" class="sf" transform="translate(125.4 811.8) scale(1 1.08)" >1</text>
<line x1="614.3" y1="1108.7" x2="608.3" y2="1108.7" stroke="#1f1f1f" stroke-width="1.9" />
<line x1="614.3" y1="1031.6" x2="608.3" y2="1031.6" stroke="#1f1f1f" stroke-width="1.9" />
<line x1="614.3" y1="954.5" x2="608.3" y2="954.5" stroke="#1f1f1f" stroke-width="1.9" />
<line x1="614.3" y1="877.4" x2="608.3" y2="877.4" stroke="#1f1f1f" stroke-width="1.9" />
<path d="M144.4 800.3 L210.2 800.3 L215.9 1185.8 L614.3 1185.8" fill="none" stroke="#000" stroke-width="2.5" stroke-linejoin="round" />
<path d="M144.7 801.7 L149.3 807.2 L155.4 804.1 L164.5 804.7 L170.6 802.6 L175.2 813.3 L181.3 816.3 L185.9 822.4 L188.9 837.7 L192.0 874.3 L194.1 910.9 L196.6 944.5 L200.5 944.5 L201.8 968.9 L204.8 1011.6 L207.2 1023.8 L208.2 1002.5 L211.8 1005.5 L214.0 1042.1 L215.8 1065.0 L221.0 1062.0 L224.6 1072.7 L227.1 1091.0 L230.1 1104.7 L234.7 1104.7 L239.9 1098.6 L242.3 1109.3 L246.9 1127.6 L253.0 1144.4 L259.1 1139.8 L268.3 1137.4 L274.4 1152.0 L280.5 1164.2 L286.6 1170.3 L292.7 1168.8 L300.3 1169.7 L311.0 1171.9 L317.1 1158.1 L323.2 1139.8 L329.3 1129.1 L335.4 1124.5 L341.5 1130.7 L347.6 1152.0 L353.7 1173.4 L359.8 1185.6 L369.0 1185.6 L375.1 1179.5 L384.3 1175.8 L393.4 1174.9 L402.6 1178.0 L414.8 1181.9 L434.7 1183.1 L450.0 1180.1 L465.2 1178.9 L480.5 1179.5 L495.7 1181.3 L517.1 1183.1 L547.6 1184.1 L578.1 1185.0 L614.8 1184.1" fill="none" stroke="#ff0000" stroke-width="2.4" stroke-linejoin="round" stroke-dasharray="9.5 9.5" />
<path d="M144.7 801.7 L164.5 802.6 L179.8 801.1 L184.4 805.6 L188.3 816.3 L192.0 833.1 L196.6 859.0 L197.2 898.7 L198.7 944.5 L200.2 968.9 L201.1 1000.9 L205.7 1000.9 L206.6 1026.9 L208.8 1066.6 L210.9 1100.1 L213.3 1127.6 L215.8 1152.0 L218.8 1171.9 L222.5 1183.1 L227.1 1185.8 L234.7 1184.1 L243.9 1181.0 L253.0 1178.6 L257.6 1175.8 L261.6 1178.0 L265.2 1174.9 L269.8 1176.4 L274.4 1172.8 L279.0 1173.4 L283.5 1170.9 L289.6 1168.8 L295.7 1170.9 L301.2 1167.9 L306.4 1170.9 L317.1 1170.3 L332.4 1169.4 L347.6 1168.2 L361.4 1167.3 L367.5 1162.7 L373.6 1155.1 L378.1 1151.4 L382.7 1150.5 L387.3 1153.5 L393.4 1161.2 L399.5 1167.3 L405.6 1170.9 L413.2 1171.9 L422.5 1168.2 L431.7 1169.4 L443.9 1171.9 L456.1 1170.9 L468.3 1168.8 L480.5 1168.8 L492.7 1170.9 L504.9 1170.9 L517.1 1168.8 L529.3 1168.2 L541.5 1170.3 L553.7 1174.9 L565.9 1181.0 L575.1 1184.1 L584.3 1185.6 L599.5 1185.0 L614.8 1183.1" fill="none" stroke="#ff0000" stroke-width="2.4" stroke-linejoin="round" />
<text x="0.0" y="0.0" font-size="33.5" fill="#000" text-anchor="middle" class="sf" font-weight="bold" transform="translate(78.0 993.0) rotate(-90)" >Emissivity</text>
<text x="375.4" y="1265.8" font-size="31.7" fill="#000" text-anchor="middle" class="sf" font-weight="bold">Wavelength (<tspan font-style="italic">μ</tspan>m)</text>
<g transform="translate(332.8 1066.3) scale(1.085 1)"><text x="0" y="0" font-size="36" fill="#000" class="sf"><tspan font-weight="bold">X</tspan><tspan font-weight="bold" font-size="22.3" dy="9.7">span</tspan><tspan dy="-9.7"> = 0.02 μm</tspan></text></g>
<g transform="translate(335.5 1119.6) scale(1.085 1)"><text x="0" y="0" font-size="36" fill="#000" class="sf"><tspan font-weight="bold">Z</tspan><tspan font-weight="bold" font-size="22.3" dy="9.7">span</tspan><tspan dy="-9.7"> = 3.43 μm</tspan></text></g>
<polygon points="432.3,827 503.4,939.9 503.4,972.6 360.9,972.6 360.9,939.9" fill="#c4ae97"/>
<path d="M360.9 939.9 L432.3 827 L503.4 939.9 Z" fill="none" stroke="#6b6055" stroke-width="0.7"/>
<line x1="360.9" y1="972.6" x2="503.4" y2="972.6" stroke="#7fa6c9" stroke-width="1.2" stroke-dasharray="4 3"/>
<line x1="432.3" y1="827.0" x2="558.5" y2="827.0" stroke="#000" stroke-width="2" stroke-dasharray="4.8 2.9"/>
<line x1="503.4" y1="939.9" x2="558.5" y2="939.9" stroke="#000" stroke-width="2" stroke-dasharray="4.8 2.9"/>
<line x1="503.4" y1="972.0" x2="558.5" y2="972.0" stroke="#000" stroke-width="2" stroke-dasharray="4.8 2.9"/>
<line x1="360.9" y1="939.9" x2="360.9" y2="995.0" stroke="#000" stroke-width="2" stroke-dasharray="4.8 2.9"/>
<line x1="503.4" y1="939.9" x2="503.4" y2="995.0" stroke="#000" stroke-width="2" stroke-dasharray="4.8 2.9"/>
<line x1="548.5" y1="838.5" x2="548.5" y2="929.0" stroke="#000" stroke-width="2.7" />
<polygon points="548.5,828.0 541.0,845.5 548.5,840.6 556.0,845.5" fill="#000"/>
<polygon points="548.5,939.5 541.0,922.0 548.5,926.9 556.0,922.0" fill="#000"/>
<line x1="548.5" y1="948.0" x2="548.5" y2="964.5" stroke="#000" stroke-width="2.7" />
<polygon points="548.5,940.5 542.0,953.0 548.5,949.5 555.0,953.0" fill="#000"/>
<polygon points="548.5,972.0 542.0,959.5 548.5,963.0 555.0,959.5" fill="#000"/>
<line x1="372.3" y1="984.8" x2="492.2" y2="984.8" stroke="#000" stroke-width="2.7" />
<polygon points="361.5,984.8 379.5,992.3 374.5,984.8 379.5,977.3" fill="#000"/>
<polygon points="503.0,984.8 485.0,992.3 490.0,984.8 485.0,977.3" fill="#000"/>
<g transform="translate(558.5 892.0) scale(1.07 1)"><text x="0" y="0" font-size="26" fill="#000" class="sf" font-weight="bold">Z<tspan font-size="15.5" dy="10.4">span</tspan></text></g>
<g transform="translate(562.0 966.0) scale(1.07 1)"><text x="0" y="0" font-size="26" fill="#000" class="sf" font-weight="bold">t<tspan font-size="15.5" dy="10.4">sub</tspan></text></g>
<g transform="translate(426.0 1009.5) scale(1.07 1)"><text x="0" y="0" font-size="26" fill="#000" class="sf" font-weight="bold">X<tspan font-size="15.5" dy="10.4">span</tspan></text></g>
<line x1="803.5" y1="800.4" x2="1296.2" y2="800.4" stroke="#1f1f1f" stroke-width="1.9" />
<line x1="803.5" y1="1187.1" x2="1296.2" y2="1187.1" stroke="#1f1f1f" stroke-width="1.9" />
<line x1="803.5" y1="799.4" x2="803.5" y2="1188.0" stroke="#1f1f1f" stroke-width="1.9" />
<line x1="1296.2" y1="799.4" x2="1296.2" y2="1188.0" stroke="#1f1f1f" stroke-width="1.9" />
<text x="0.0" y="0.0" font-size="31.5" fill="#0d0d0d" text-anchor="middle" class="sf" transform="translate(803.5 1228.6) scale(1 1.08)" >0</text>
<line x1="957.5" y1="1187.1" x2="957.5" y2="1181.1" stroke="#1f1f1f" stroke-width="1.9" />
<line x1="957.5" y1="800.4" x2="957.5" y2="806.4" stroke="#1f1f1f" stroke-width="1.9" />
<text x="0.0" y="0.0" font-size="31.5" fill="#0d0d0d" text-anchor="middle" class="sf" transform="translate(957.5 1228.6) scale(1 1.08)" >5</text>
<line x1="1111.4" y1="1187.1" x2="1111.4" y2="1181.1" stroke="#1f1f1f" stroke-width="1.9" />
<line x1="1111.4" y1="800.4" x2="1111.4" y2="806.4" stroke="#1f1f1f" stroke-width="1.9" />
<text x="0.0" y="0.0" font-size="31.5" fill="#0d0d0d" text-anchor="middle" class="sf" transform="translate(1111.4 1228.6) scale(1 1.08)" >10</text>
<line x1="1265.4" y1="1187.1" x2="1265.4" y2="1181.1" stroke="#1f1f1f" stroke-width="1.9" />
<line x1="1265.4" y1="800.4" x2="1265.4" y2="806.4" stroke="#1f1f1f" stroke-width="1.9" />
<text x="0.0" y="0.0" font-size="31.5" fill="#0d0d0d" text-anchor="middle" class="sf" transform="translate(1265.4 1228.6) scale(1 1.08)" >15</text>
<line x1="803.5" y1="1109.8" x2="809.5" y2="1109.8" stroke="#1f1f1f" stroke-width="1.9" />
<line x1="803.5" y1="1032.4" x2="809.5" y2="1032.4" stroke="#1f1f1f" stroke-width="1.9" />
<line x1="803.5" y1="955.1" x2="809.5" y2="955.1" stroke="#1f1f1f" stroke-width="1.9" />
<line x1="803.5" y1="877.7" x2="809.5" y2="877.7" stroke="#1f1f1f" stroke-width="1.9" />
<line x1="1296.2" y1="1109.8" x2="1290.2" y2="1109.8" stroke="#1f1f1f" stroke-width="1.9" />
<line x1="1296.2" y1="1032.4" x2="1290.2" y2="1032.4" stroke="#1f1f1f" stroke-width="1.9" />
<line x1="1296.2" y1="955.1" x2="1290.2" y2="955.1" stroke="#1f1f1f" stroke-width="1.9" />
<line x1="1296.2" y1="877.7" x2="1290.2" y2="877.7" stroke="#1f1f1f" stroke-width="1.9" />
<path d="M812.2 1060.5 L819.8 1072.7 L825.9 1075.7 L833.6 1066.6 L839.7 1054.4 L845.8 1048.3 L850.4 1033.0 L856.5 1017.7 L864.1 999.4 L873.2 975.0 L882.4 950.6 L891.6 923.1 L899.2 901.8 L906.8 881.9 L916.0 863.6 L925.1 848.4 L934.3 836.1 L943.4 825.5 L952.6 816.9 L961.7 810.8 L970.9 806.5 L983.1 802.6 L995.3 801.1 L1013.6 801.1 L1100.0 800.4 L1183.1 800.4 L1244.1 802.3 L1296.0 804.7" fill="none" stroke="#ff0000" stroke-width="2.4" stroke-linejoin="round" stroke-dasharray="9.5 9.5" />
<path d="M812.2 1045.2 L814.6 1078.8 L817.4 1118.4 L822.0 1112.3 L825.9 1087.9 L830.5 1057.4 L835.1 1026.9 L839.7 996.4 L845.8 964.3 L850.4 926.2 L856.5 892.6 L862.6 868.2 L868.7 848.4 L874.8 833.1 L880.9 819.4 L887.0 809.6 L893.1 804.7 L900.7 802.0 L912.9 801.1 L952.6 801.1 L983.1 800.4 L998.4 802.6 L1009.1 803.5 L1015.2 806.5 L1019.7 811.7 L1025.8 817.8 L1031.9 820.9 L1038.0 825.5 L1044.1 830.0 L1050.9 832.5 L1056.4 828.5 L1062.6 819.4 L1068.7 810.2 L1073.2 805.6 L1077.8 805.6 L1082.4 810.2 L1088.5 820.9 L1094.6 833.1 L1102.2 843.8 L1109.9 849.0 L1115.4 846.8 L1119.0 836.1 L1124.5 827.9 L1128.2 834.6 L1134.3 846.8 L1140.4 854.5 L1149.5 859.0 L1158.7 860.6 L1167.9 859.0 L1174.0 856.0 L1178.5 848.4 L1183.1 841.3 L1189.2 843.8 L1198.4 848.4 L1207.5 850.8 L1216.7 850.8 L1225.8 848.4 L1235.0 844.7 L1244.1 843.8 L1251.8 846.8 L1259.4 854.5 L1268.6 866.7 L1277.7 878.9 L1286.9 889.6 L1296.0 898.7" fill="none" stroke="#ff0000" stroke-width="2.4" stroke-linejoin="round" />
<text x="1050.2" y="1267.5" font-size="33" fill="#000" text-anchor="middle" class="sf" font-weight="bold">Wavelength (<tspan font-style="italic">μ</tspan>m)</text>
<g transform="translate(1014.8 1027.3) scale(1.085 1)"><text x="0" y="0" font-size="36" fill="#000" class="sf"><tspan font-weight="bold">Z</tspan><tspan font-weight="bold" font-size="22.3" dy="9.7">span</tspan><tspan dy="-9.7"> = 6.95 μm</tspan></text></g>
<g transform="translate(1014.8 1076.0) scale(1.085 1)"><text x="0" y="0" font-size="36" fill="#000" class="sf"><tspan font-weight="bold">X</tspan><tspan font-weight="bold" font-size="22.3" dy="9.7">span</tspan><tspan dy="-9.7"> = 2.29 μm</tspan></text></g>
<rect x="946.9" y="1095.7" width="335.6" height="75.5" fill="#fff" stroke="#1f1f1f" stroke-width="1.5"/>
<line x1="952.6" y1="1117.0" x2="1000.0" y2="1117.0" stroke="#ff0000" stroke-width="2.4" />
<line x1="952.6" y1="1151.4" x2="1000.0" y2="1151.4" stroke="#ff0000" stroke-width="2.4" stroke-dasharray="10 8.4"/>
<text x="1005.0" y="1127.0" font-size="29" fill="#000" text-anchor="start" class="sf" >Simulation: ML Output</text>
<text x="1005.0" y="1162.0" font-size="29" fill="#000" text-anchor="start" class="sf" >Simulation: Match</text>
<line x1="1442.8" y1="800.2" x2="1930.5" y2="800.2" stroke="#1f1f1f" stroke-width="1.9" />
<line x1="1442.8" y1="1184.0" x2="1930.5" y2="1184.0" stroke="#1f1f1f" stroke-width="1.9" />
<line x1="1442.8" y1="799.2" x2="1442.8" y2="1185.0" stroke="#1f1f1f" stroke-width="1.9" />
<line x1="1930.5" y1="799.2" x2="1930.5" y2="1185.0" stroke="#1f1f1f" stroke-width="1.9" />
<text x="0.0" y="0.0" font-size="31.5" fill="#0d0d0d" text-anchor="middle" class="sf" transform="translate(1442.8 1225.5) scale(1 1.08)" >0</text>
<line x1="1595.2" y1="1184.0" x2="1595.2" y2="1178.0" stroke="#1f1f1f" stroke-width="1.9" />
<line x1="1595.2" y1="800.2" x2="1595.2" y2="806.2" stroke="#1f1f1f" stroke-width="1.9" />
<text x="0.0" y="0.0" font-size="31.5" fill="#0d0d0d" text-anchor="middle" class="sf" transform="translate(1595.2 1225.5) scale(1 1.08)" >5</text>
<line x1="1747.6" y1="1184.0" x2="1747.6" y2="1178.0" stroke="#1f1f1f" stroke-width="1.9" />
<line x1="1747.6" y1="800.2" x2="1747.6" y2="806.2" stroke="#1f1f1f" stroke-width="1.9" />
<text x="0.0" y="0.0" font-size="31.5" fill="#0d0d0d" text-anchor="middle" class="sf" transform="translate(1747.6 1225.5) scale(1 1.08)" >10</text>
<line x1="1900.0" y1="1184.0" x2="1900.0" y2="1178.0" stroke="#1f1f1f" stroke-width="1.9" />
<line x1="1900.0" y1="800.2" x2="1900.0" y2="806.2" stroke="#1f1f1f" stroke-width="1.9" />
<text x="0.0" y="0.0" font-size="31.5" fill="#0d0d0d" text-anchor="middle" class="sf" transform="translate(1900.0 1225.5) scale(1 1.08)" >15</text>
<line x1="1442.8" y1="1107.2" x2="1448.8" y2="1107.2" stroke="#1f1f1f" stroke-width="1.9" />
<line x1="1442.8" y1="1030.5" x2="1448.8" y2="1030.5" stroke="#1f1f1f" stroke-width="1.9" />
<line x1="1442.8" y1="953.7" x2="1448.8" y2="953.7" stroke="#1f1f1f" stroke-width="1.9" />
<line x1="1442.8" y1="877.0" x2="1448.8" y2="877.0" stroke="#1f1f1f" stroke-width="1.9" />
<line x1="1930.5" y1="1107.2" x2="1924.5" y2="1107.2" stroke="#1f1f1f" stroke-width="1.9" />
<line x1="1930.5" y1="1030.5" x2="1924.5" y2="1030.5" stroke="#1f1f1f" stroke-width="1.9" />
<line x1="1930.5" y1="953.7" x2="1924.5" y2="953.7" stroke="#1f1f1f" stroke-width="1.9" />
<line x1="1930.5" y1="877.0" x2="1924.5" y2="877.0" stroke="#1f1f1f" stroke-width="1.9" />
<path d="M1451.2 800.5 L1509.8 801.2 L1522.2 804.9 L1529.7 811.2 L1539.7 818.6 L1549.6 821.1 L1559.6 819.4 L1574.5 814.9 L1589.5 811.2 L1601.9 806.2 L1614.4 802.0 L1624.4 800.5 L1746.4 800.2 L1930.3 801.2" fill="none" stroke="#ff0000" stroke-width="2.4" stroke-linejoin="round" stroke-dasharray="9.5 9.5" />
<path d="M1451.2 800.5 L1502.3 800.2 L1512.2 801.7 L1522.2 800.2 L1569.5 800.5 L1580.8 801.5 L1592.0 800.2 L1746.4 800.0 L1771.3 802.5 L1796.3 803.2 L1821.2 801.7 L1843.6 802.0 L1858.5 805.4 L1873.5 809.4 L1888.4 811.9 L1908.4 813.7 L1930.3 815.4" fill="none" stroke="#ff0000" stroke-width="2.4" stroke-linejoin="round" />
<text x="1686.8" y="1264.0" font-size="32.7" fill="#000" text-anchor="middle" class="sf" font-weight="bold">Wavelength (<tspan font-style="italic">μ</tspan>m)</text>
<g transform="translate(1645.0 1035.0) scale(1.085 1)"><text x="0" y="0" font-size="36" fill="#000" class="sf"><tspan font-weight="bold">X</tspan><tspan font-weight="bold" font-size="22.3" dy="9.7">span</tspan><tspan dy="-9.7"> = 4.81 μm</tspan></text></g>
<g transform="translate(1645.0 1085.0) scale(1.085 1)"><text x="0" y="0" font-size="36" fill="#000" class="sf"><tspan font-weight="bold">Z</tspan><tspan font-weight="bold" font-size="22.3" dy="9.7">span</tspan><tspan dy="-9.7"> = 10.3 μm</tspan></text></g>
</svg>
</body></html>
